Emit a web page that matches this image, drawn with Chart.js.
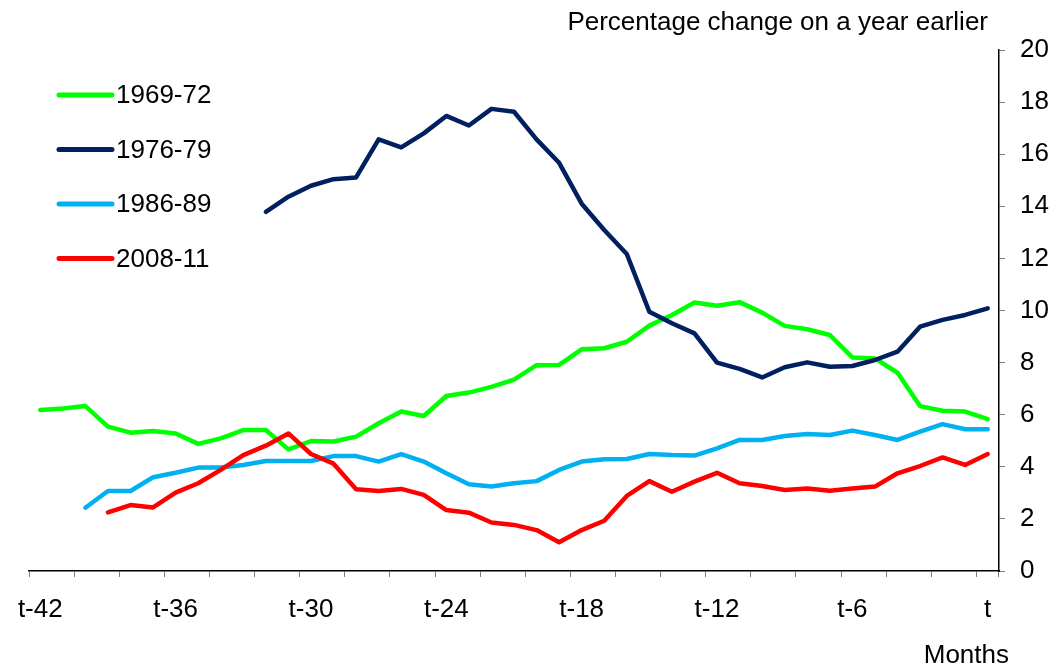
<!DOCTYPE html>
<html>
<head>
<meta charset="utf-8">
<script src="https://cdn.jsdelivr.net/npm/chart.js@4"></script>
<style>
  html, body { margin: 0; padding: 0; background: #fff; }
  #wrap { width: 1057px; height: 670px; }
</style>
</head>
<body>
<div id="wrap"><canvas id="grafico"></canvas></div>
<script>
// months before t
const meses = ['t-42','t-41','t-40','t-39','t-38','t-37','t-36','t-35','t-34','t-33','t-32',
  't-31','t-30','t-29','t-28','t-27','t-26','t-25','t-24','t-23','t-22','t-21','t-20',
  't-19','t-18','t-17','t-16','t-15','t-14','t-13','t-12','t-11','t-10','t-9','t-8',
  't-7','t-6','t-5','t-4','t-3','t-2','t-1','t'];
const rotulosX = ['t-42','t-36','t-30','t-24','t-18','t-12','t-6','t'];

const periodos = ['1969-72', '1976-79', '1986-89', '2008-11'];
const cores = ['#00ff00', '#002060', '#00b0f0', '#ff0000'];

const serie6972 = [6.18, 6.24, 6.33, 5.54, 5.31, 5.37, 5.28, 4.88, 5.09, 5.41, 5.41, 4.67, 4.99,
  4.97, 5.16, 5.67, 6.12, 5.95, 6.72, 6.85, 7.07, 7.35, 7.90, 7.91, 8.51, 8.55, 8.80, 9.42, 9.83,
  10.31, 10.18, 10.32, 9.92, 9.41, 9.28, 9.06, 8.20, 8.16, 7.61, 6.33, 6.15, 6.12, 5.83];
const serie7679 = [null, null, null, null, null, null, null, null, null, null,
  13.79, 14.37, 14.79, 15.04, 15.11, 16.57, 16.26, 16.80, 17.47, 17.10, 17.74, 17.63, 16.57,
  15.67, 14.10, 13.09, 12.17, 9.95, 9.51, 9.12, 8.00, 7.76, 7.43, 7.82, 8.01, 7.84, 7.87, 8.10,
  8.42, 9.38, 9.64, 9.83, 10.08];
const serie8689 = [null, null,
  2.43, 3.07, 3.07, 3.60, 3.77, 3.97, 3.97, 4.07, 4.22, 4.22, 4.22, 4.41, 4.41, 4.20, 4.49, 4.20,
  3.75, 3.33, 3.24, 3.37, 3.45, 3.88, 4.20, 4.29, 4.30, 4.49, 4.45, 4.43, 4.71, 5.03, 5.03, 5.18,
  5.26, 5.22, 5.39, 5.22, 5.03, 5.35, 5.64, 5.44, 5.44];
const serie0811 = [null, null, null,
  2.25, 2.53, 2.44, 3.01, 3.37, 3.88, 4.45, 4.81, 5.28, 4.49, 4.12, 3.14, 3.07, 3.15, 2.92, 2.34,
  2.24, 1.86, 1.77, 1.57, 1.10, 1.57, 1.93, 2.88, 3.45, 3.04, 3.43, 3.77, 3.37, 3.26, 3.11, 3.17,
  3.08, 3.17, 3.24, 3.75, 4.03, 4.36, 4.07, 4.49];

const eixoY = { min: 0, max: 20, passo: 2 };

const fonte = 'Liberation Sans, Arial, sans-serif';

// legend + axis captions drawn by hand
const textosExtras = {
  id: 'textosExtras',
  afterDraw(chart) {
    const ctx = chart.ctx;
    ctx.save();
    ctx.fillStyle = '#000';
    ctx.font = '26px ' + fonte;
    ctx.textBaseline = 'middle';
    ctx.textAlign = 'right';
    ctx.fillText('Percentage change on a year earlier', 988, 23);
    ctx.fillText('Months', 1009, 656);

    ctx.textAlign = 'left';
    chart.data.datasets.forEach((ds, i) => {
      const y = 95 + i * 54.5;
      ctx.strokeStyle = ds.borderColor;
      ctx.lineWidth = 5;
      ctx.lineCap = 'round';
      ctx.beginPath();
      ctx.moveTo(59, y);
      ctx.lineTo(112, y);
      ctx.stroke();
      ctx.fillText(ds.label, 116, y + 1);
    });
    ctx.restore();
  }
};

const series = [serie6972, serie7679, serie8689, serie0811];

new Chart(document.getElementById('grafico'), {
  type: 'line',
  data: {
    labels: meses,
    datasets: series.map((s, i) => ({
      label: periodos[i],
      data: s,
      borderColor: cores[i],
      backgroundColor: cores[i],
      borderWidth: 4.5,
      borderCapStyle: 'round',
      borderJoinStyle: 'round',
      pointRadius: 0,
      tension: 0,
      spanGaps: false,
      order: series.length - i
    }))
  },
  options: {
    responsive: true,
    maintainAspectRatio: false,
    animation: false,
    layout: { padding: { top: 50, left: 29, right: 0, bottom: 0 } },
    plugins: { legend: { display: false }, tooltip: { enabled: false } },
    scales: {
      x: {
        type: 'category',
        offset: true,
        grid: {
          offset: true,
          drawOnChartArea: false,
          tickLength: 6,
          color: ctx => (ctx.index === undefined || ctx.index % 2 === 0) ? '#7f7f7f' : 'rgba(0,0,0,0)'
        },
        border: { color: '#000', width: 1.5 },
        ticks: {
          autoSkip: false,
          maxRotation: 0,
          padding: 17,
          color: '#000',
          font: { family: fonte, size: 26 },
          callback: function (v) {
            const l = this.getLabelForValue(v);
            return rotulosX.includes(l) ? l : '';
          }
        },
        afterFit: s => { s.height = 99; }
      },
      y: {
        position: 'right',
        min: eixoY.min,
        max: eixoY.max,
        grid: { drawOnChartArea: false, tickLength: 6, color: '#7f7f7f' },
        border: { color: '#000', width: 1.5 },
        ticks: {
          stepSize: eixoY.passo,
          padding: 15,
          color: '#000',
          font: { family: fonte, size: 26 }
        },
        afterFit: s => { s.width = 58; }
      }
    }
  },
  plugins: [textosExtras]
});
</script>
</body>
</html>
